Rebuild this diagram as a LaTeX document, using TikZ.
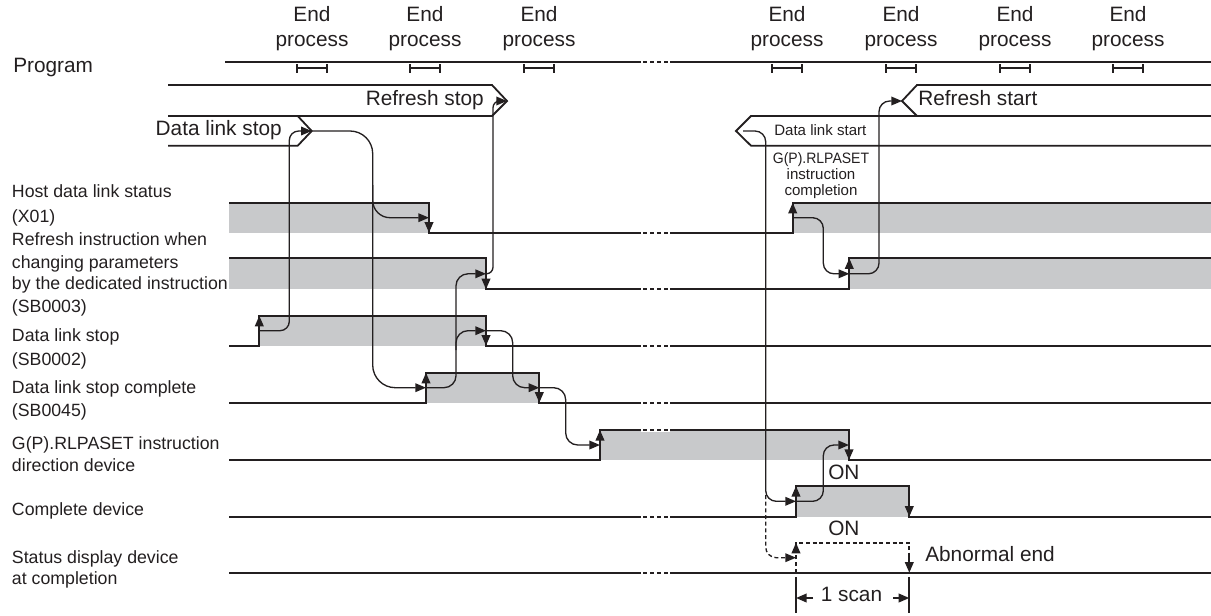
\documentclass[tikz,border=0pt]{standalone}
\usepackage{fontspec}
\setmainfont{Liberation Sans}
\usepackage{graphicx}
\usetikzlibrary{arrows.meta}
\definecolor{bandgrey}{RGB}{200,201,203}
\definecolor{ink}{RGB}{35,31,32}
\newcommand{\mainsz}{\fontsize{15.6pt}{18pt}\selectfont}
\newcommand{\lblsz}{\fontsize{13.3pt}{16pt}\selectfont}
\newcommand{\smlsz}{\fontsize{11.3pt}{13pt}\selectfont}
\begin{document}
\begin{tikzpicture}[x=0.75pt,y=-0.75pt,
  sig/.style={draw=ink,line width=1.35pt,line join=miter},
  tip/.style={draw=ink,line width=1.35pt,-{Triangle[length=8pt,width=6.5pt]}},
  cause/.style={draw=ink,line width=1pt,-{Triangle[length=8pt,width=6.5pt]}},
  brk/.style={draw=ink,line width=1.35pt,dash pattern=on 3pt off 2.25pt},
  dsh/.style={dash pattern=on 3pt off 2pt},
  big/.style={font=\mainsz,text=ink,inner sep=0pt,text height=0.72em,text depth=0pt},
  lbl/.style={font=\lblsz,text=ink,inner sep=0pt,anchor=west,text height=0.72em,text depth=0pt},
  sml/.style={font=\smlsz,text=ink,inner sep=0pt,text height=0.72em,text depth=0pt}]
\useasboundingbox (0,0) rectangle (1211,615);

% ---------- grey bands ----------
\fill[bandgrey] (229,202.7) rectangle (429,232.7);
\fill[bandgrey] (792.7,202.7) rectangle (1211,232.7);
\fill[bandgrey] (229,258.3) rectangle (486,289.3);
\fill[bandgrey] (849.3,258.3) rectangle (1211,289.3);
\fill[bandgrey] (259.3,315.7) rectangle (486,345.7);
\fill[bandgrey] (426,372.7) rectangle (539.3,402.7);
\fill[bandgrey] (600,430) rectangle (849,460);
\fill[bandgrey] (796,486) rectangle (909.3,516.7);

% ---------- program line and end process markers ----------
\draw[sig] (225,62.3) -- (1211,62.3);
\foreach \mx/\nm in {312/a,425/b,539/c,787/d,901/e,1015/f,1128/g}{
  \draw[sig] (\mx-15,68.3) -- (\mx+15,68.3);
  \draw[sig] (\mx-15,64.3) -- (\mx-15,72.5);
  \draw[sig] (\mx+15,64.3) -- (\mx+15,72.5);
  \node[big] (end\nm) at (\mx,17) {End};
  \node[big] (proc\nm) at (\mx,42) {process};
}
\node[big,anchor=west] (prog) at (13,68) {Program};

% ---------- instruction bands ----------
\draw[sig] (168,85) -- (492,85) -- (507,101) -- (492,116) -- (168,116);
\draw[sig] (297.7,116) -- (311.7,131) -- (297.7,145.7) -- (168,145.7);
\draw[sig] (1211,85) -- (917,85) -- (902,101) -- (917,116);
\draw[sig] (1211,116) -- (751,116) -- (736,131) -- (751,145.7) -- (1211,145.7);
\node[big,anchor=east] (rstop) at (484,101) {Refresh stop};
\node[big,anchor=east] (dlstop) at (282,131) {Data link stop};
\node[big,anchor=west] (rstart) at (918,101) {Refresh start};
\node[sml,anchor=west] (dlstart) at (774,131) {Data link start};
\node[sml] (gp1) at (821,158.3) {\scalebox{0.93}[1]{G(P).RLPASET}};
\node[sml] (gp2) at (821,175) {instruction};
\node[sml] (gp3) at (821,191) {completion};

% ---------- timing signals ----------
\draw[sig] (229,202.7) -- (429,202.7) -- (429,232.7) -- (792.7,232.7) -- (792.7,202.7) -- (1211,202.7);
\draw[sig] (229,258.3) -- (486,258.3) -- (486,289.3) -- (849.3,289.3) -- (849.3,258.3) -- (1211,258.3);
\draw[sig] (229,345.7) -- (259.3,345.7) -- (259.3,315.7) -- (486,315.7) -- (486,345.7) -- (1211,345.7);
\draw[sig] (229,402.7) -- (426,402.7) -- (426,372.7) -- (539.3,372.7) -- (539.3,402.7) -- (1211,402.7);
\draw[sig] (229,460) -- (600,460) -- (600,430) -- (849,430) -- (849,460) -- (1211,460);
\draw[sig] (229,516.7) -- (796,516.7) -- (796,486) -- (909.3,486) -- (909.3,516.7) -- (1211,516.7);
\draw[sig] (229,572.7) -- (1211,572.7);
\draw[sig,dsh] (796,572.7) -- (796,542.7) -- (909.3,542.7) -- (909.3,572.7);

% breaks
\foreach \yy in {62.3,232.7,289.3,345.7,402.7,430,516.7,572.7}{
  \fill[white] (641,\yy-2) rectangle (670,\yy+2);
  \draw[brk] (643,\yy) -- (668,\yy);
}

% edge arrowheads
\draw[tip] (429,216) -- (429,232.7);
\draw[tip] (792.7,219) -- (792.7,202.7);
\draw[tip] (486,272) -- (486,289.3);
\draw[tip] (849.3,275) -- (849.3,258.3);
\draw[tip] (259.3,332) -- (259.3,315.7);
\draw[tip] (486,329) -- (486,345.7);
\draw[tip] (426,389) -- (426,372.7);
\draw[tip] (539.3,386) -- (539.3,402.7);
\draw[tip] (600,446) -- (600,430);
\draw[tip] (849,444) -- (849,460);
\draw[tip] (796,502) -- (796,486);
\draw[tip] (909.3,500) -- (909.3,516.7);
\draw[tip,dsh] (796,559) -- (796,542.7);
\draw[tip,dsh] (909.3,556) -- (909.3,572.7);

% ---------- cause arrows ----------
\draw[cause,rounded corners=7pt] (259.3,330.7) -- (289.3,330.7) -- (289.3,131) -- (311.7,131);
\draw[cause,rounded corners=17pt] (311.7,131) -- (372.7,131) -- (372.7,387.7) -- (426,387.7);
\draw[cause,rounded corners=13pt] (372.7,185) -- (372.7,217.7) -- (429,217.7);
\draw[cause,rounded corners=9pt] (426,387.7) -- (456,387.7) -- (456,273.8) -- (486,273.8);
\draw[cause,rounded corners=9pt] (456,350) -- (456,330.7) -- (486,330.7);
\draw[cause,rounded corners=5pt] (486,273.8) -- (493,273.8) -- (493,101) -- (507,101);
\draw[cause,rounded corners=9pt] (486,330.7) -- (512.7,330.7) -- (512.7,387.7) -- (539.3,387.7);
\draw[cause,rounded corners=9pt] (539.3,387.7) -- (565.7,387.7) -- (565.7,445) -- (600,445);
\draw[cause,rounded corners=8pt] (743,131) -- (765.7,131) -- (765.7,501.3) -- (796,501.3);
\draw[cause,dsh,rounded corners=8pt] (765.7,495) -- (765.7,557.7) -- (796,557.7);
\draw[cause,rounded corners=8pt] (792.7,217.7) -- (823.3,217.7) -- (823.3,273.8) -- (849.3,273.8);
\draw[cause,rounded corners=8pt] (849.3,273.8) -- (879,273.8) -- (879,101) -- (902,101);
\draw[cause,rounded corners=8pt] (796,501.3) -- (823.3,501.3) -- (823.3,445) -- (849,445);

% ---------- ON / abnormal / 1 scan ----------
\node[big,anchor=west] (on1) at (828,474.3) {ON};
\node[big,anchor=west] (on2) at (828,531) {ON};
\node[big,anchor=west] (abn) at (925,556.7) {Abnormal end};
\draw[sig] (796,577) -- (796,613);
\draw[sig] (909.3,577) -- (909.3,613);
\node[big] (scan) at (851.5,597) {1 scan};
\draw[tip] (813,598) -- (796,598);
\draw[tip] (893,598) -- (909.3,598);

% ---------- left labels ----------
\node[lbl] (h1) at (11.7,192.7) {Host data link status};
\node[lbl] (h2) at (11.7,217.3) {(X01)};
\node[lbl] (r1) at (11.7,240.7) {Refresh instruction when};
\node[lbl] (r2) at (11.7,263.3) {changing parameters};
\node[lbl] (r3) at (11.7,285) {by the dedicated instruction};
\node[lbl] (r4) at (11.7,307.7) {(SB0003)};
\node[lbl] (s1) at (11.7,336.7) {Data link stop};
\node[lbl] (s2) at (11.7,361) {(SB0002)};
\node[lbl] (c1) at (11.7,388.3) {Data link stop complete};
\node[lbl] (c2) at (11.7,411.7) {(SB0045)};
\node[lbl] (g1) at (11.7,445) {G(P).RLPASET instruction};
\node[lbl] (g2) at (11.7,466.7) {direction device};
\node[lbl] (cd) at (11.7,511) {Complete device};
\node[lbl] (sd1) at (11.7,558.3) {Status display device};
\node[lbl] (sd2) at (11.7,580) {at completion};
\end{tikzpicture}
\end{document}
